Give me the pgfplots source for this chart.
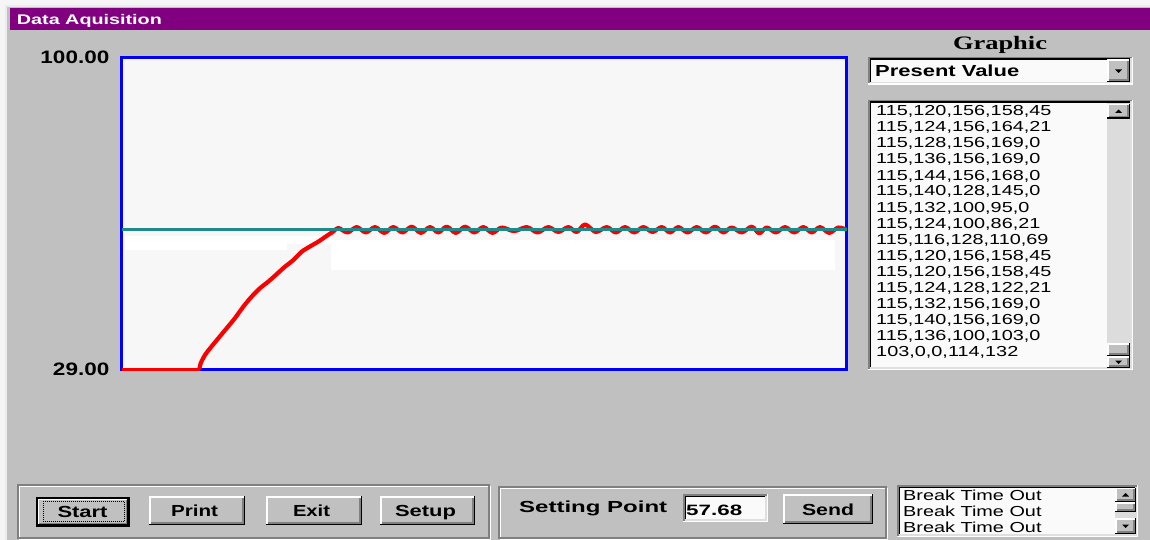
\documentclass[border=0pt]{standalone}
\usepackage{fontspec}
\setmainfont{Liberation Sans}
\newfontfamily\listfont[FakeStretch=1.37]{Liberation Sans}
\newfontfamily\serifb{Liberation Serif}
\usepackage{graphicx}
\usepackage{pgfplots}
\pgfplotsset{compat=1.18}
\definecolor{winbg}{HTML}{C0C0C0}
\definecolor{titlepurple}{HTML}{800080}
\definecolor{dkgray}{HTML}{808080}
\definecolor{ltgray}{HTML}{DFDFDF}
\definecolor{plotbg}{HTML}{F7F7F7}
\definecolor{fieldbg}{HTML}{FAFAFA}
\definecolor{trackc}{HTML}{DCDCDC}
\definecolor{setc}{RGB}{32,138,138}
\definecolor{pvred}{RGB}{250,0,0}
\definecolor{axblue}{RGB}{0,0,250}
\newcommand{\wtxt}[3]{\resizebox{#1pt}{\height}{\fontsize{#2}{#2}\selectfont #3}}
\newcommand{\raised}[4]{%
 \fill[winbg] (#1,#2) rectangle (#3,#4);
 \draw[white,line width=1.5pt] (#1+0.75,#4-1.5) -- (#1+0.75,#2+0.75) -- (#3-1.5,#2+0.75);
 \draw[black,line width=1.5pt] (#1,#4-0.75) -- (#3-0.75,#4-0.75) -- (#3-0.75,#2);
 \draw[dkgray,line width=1.5pt] (#1+1.5,#4-2.25) -- (#3-2.25,#4-2.25) -- (#3-2.25,#2+1.5);}
\newcommand{\sunken}[4]{%
 \fill[fieldbg] (#1,#2) rectangle (#3,#4);
 \draw[dkgray,line width=1.5pt] (#1+0.75,#4) -- (#1+0.75,#2+0.75) -- (#3,#2+0.75);
 \draw[black,line width=1.5pt] (#1+2.25,#4-1.5) -- (#1+2.25,#2+2.25) -- (#3-1.5,#2+2.25);
 \draw[white,line width=1.5pt] (#1,#4-0.75) -- (#3-0.75,#4-0.75) -- (#3-0.75,#2);
 \draw[ltgray,line width=1.5pt] (#1+1.5,#4-2.25) -- (#3-2.25,#4-2.25) -- (#3-2.25,#2+1.5);}
\newcommand{\etched}[4]{%
 \draw[white,line width=1.2pt] (#1+1.2,#2+1.2) rectangle (#3+1.2,#4+1.2);
 \draw[dkgray,line width=1.2pt] (#1,#2) rectangle (#3,#4);}
\newcommand{\arrdown}[2]{\fill[black] (#1-3.5,#2-1.5) -- (#1+3.5,#2-1.5) -- (#1,#2+2) -- cycle;}
\newcommand{\arrup}[2]{\fill[black] (#1-3.5,#2+1.5) -- (#1+3.5,#2+1.5) -- (#1,#2-2) -- cycle;}
\begin{document}
\begin{tikzpicture}[x=1pt,y=-1pt]
\useasboundingbox (0,0) rectangle (1150,540);
\fill[white!96!black] (0,0) rectangle (1150,540);
\fill[winbg] (5,5) rectangle (1150,540);
\draw[white!92!black,line width=1.2pt] (6,540) -- (6,6) -- (1150,6);
\fill[titlepurple] (10,8.5) rectangle (1150,30.5);
\node[anchor=base west,inner sep=0,text=white] at (16.7,25) {\wtxt{145}{14}{\bfseries Data Aquisition}};

\begin{scope}[x=1pt,y=1pt]
\begin{axis}[at={(121.5pt,-369.5pt)}, anchor=south west,
  width=725pt, height=312pt, scale only axis,
  xmin=0, xmax=725, ymin=29, ymax=100,
  axis line style={draw=axblue,line width=2.5pt},
  axis background/.style={fill=plotbg},
  xtick=\empty, ytick={29,100},
  yticklabels={\scalebox{1.25}[1]{29.00},\scalebox{1.25}[1]{100.00}},
  major tick length=0pt,
  yticklabel style={anchor=east,inner sep=0pt,xshift=-12pt,font=\bfseries\fontsize{18}{18}\selectfont},
  clip=false]
\fill[white] (3,59.4) rectangle (165.5,56.2);
\fill[white] (165.5,59.3) rectangle (210,57.6);
\fill[white] (209.5,58.5) rectangle (713.5,51.6);
\addplot[pvred,line width=2.5pt] coordinates {(0,29) (78,29)};
\addplot[pvred,line width=4.2pt,smooth,tension=0.5,line join=round] coordinates {
(77.8,29) (79.2,30.4) (83.5,32.3) (88.5,33.8) (96.8,36.1) (105.2,38.4) (113.5,40.7)
(121.8,43.3) (130.2,45.6) (138.5,47.5) (146.8,49.0) (155.2,50.7) (163.5,52.4)
(171.8,53.9) (180.2,55.8) (188.5,57.0) (196.8,58.1) (205.2,59.4) (211.8,60.4)
(216.8,61.2) (226,60.2) (235.2,61.4) (244.3,60.2) (253.5,61.4) (262.7,60.1)
(271.8,61.4) (281,60.2) (290.2,61.5) (299.3,60.1) (308.5,61.4) (316.8,60.2)
(325.2,61.5) (334.3,60.1) (343.5,61.5) (352.7,60.2) (361.8,61.4) (371,60.1)
(380.2,61.3) (392.7,60.5) (405.2,61.4) (416,60.2) (426.8,61.4) (436.8,60.3)
(446.8,61.4) (455.2,60.3) (463.5,62.0) (474.3,60.3) (485.2,61.4) (494.3,60.2)
(503.5,61.4) (512.7,60.2) (521.8,61.4) (531,60.3) (540.2,61.4) (548.5,60.2)
(556.8,61.4) (566,60.2) (575.2,61.4) (584.3,60.2) (593.5,61.5) (601.8,60.2)
(610.2,61.3) (620.2,60.2) (630.2,61.5) (637.7,60.0) (645.2,61.3) (654.3,60.2)
(663.5,61.4) (672.7,60.2) (681.8,61.4) (690.2,60.2) (698.5,61.4) (707.7,60.1)
(716.8,61.3) (725,60.8)};
\addplot[setc,line width=2.6pt] coordinates {(0,60.9) (725,60.9)};
\end{axis}
\end{scope}

% right panel
\node[anchor=base,inner sep=0] at (1000,50) {\wtxt{94}{19}{\serifb\bfseries Graphic}};
\sunken{868}{57}{1133}{85}
\raised{1107}{59.5}{1130}{82.5}
\arrdown{1118.5}{71}
\node[anchor=base west,inner sep=0] at (875,77) {\wtxt{144}{16}{\bfseries Present Value}};

\sunken{868}{100}{1133}{370}
\fill[trackc] (1107,103.5) rectangle (1130,367);
\raised{1107}{104}{1130}{119}
\arrup{1118.5}{111.5}
\raised{1107}{343}{1130}{356}
\raised{1107}{356}{1130}{368}
\arrdown{1118.5}{362}
\begin{scope}[every node/.style={anchor=base west,inner sep=0,font=\listfont\fontsize{14.5}{16}\selectfont}]
\node at (876,116) {115,120,156,158,45};
\node at (876,132) {115,124,156,164,21};
\node at (876,148) {115,128,156,169,0};
\node at (876,164) {115,136,156,169,0};
\node at (876,180) {115,144,156,168,0};
\node at (876,196) {115,140,128,145,0};
\node at (876,212) {115,132,100,95,0};
\node at (876,228) {115,124,100,86,21};
\node at (876,244) {115,116,128,110,69};
\node at (876,260) {115,120,156,158,45};
\node at (876,276) {115,120,156,158,45};
\node at (876,292) {115,124,128,122,21};
\node at (876,308) {115,132,156,169,0};
\node at (876,324) {115,140,156,169,0};
\node at (876,340) {115,136,100,103,0};
\node at (876,356) {103,0,0,114,132};
\end{scope}

% bottom controls
\etched{18}{485}{489}{538}
\etched{499}{487}{886}{538}
\draw[black,line width=1.5pt] (36.75,497.75) rectangle (129.25,526.25);
\raised{37.5}{498.5}{128.5}{525.5}
\draw[black,line width=0.8pt,dash pattern=on 1pt off 1pt] (43,501) rectangle (124,521.5);
\raised{149}{496}{245}{525}
\raised{266}{496}{362}{525}
\raised{380}{496}{475}{525}
\node[anchor=base,inner sep=0] at (82.5,517) {\wtxt{50}{16}{\bfseries Start}};
\node[anchor=base,inner sep=0] at (194.5,516) {\wtxt{47}{16}{\bfseries Print}};
\node[anchor=base,inner sep=0] at (311.5,516) {\wtxt{37}{16}{\bfseries Exit}};
\node[anchor=base,inner sep=0] at (425.5,516) {\wtxt{61}{16}{\bfseries Setup}};

\node[anchor=base west,inner sep=0] at (519,512) {\wtxt{148}{16}{\bfseries Setting Point}};
\sunken{683}{494}{768}{522}
\node[anchor=base west,inner sep=0] at (686,515) {\wtxt{56}{15}{\bfseries 57.68}};
\raised{783}{494}{873}{524}
\node[anchor=base,inner sep=0] at (828,515) {\wtxt{52}{16}{\bfseries Send}};

\sunken{897}{485}{1138}{537}
\fill[trackc] (1115,487.5) rectangle (1136,534);
\raised{1115}{487.5}{1136}{502}
\arrup{1125.5}{495}
\raised{1115}{502}{1136}{512}
\raised{1115}{518}{1136}{534}
\arrdown{1125.5}{526}
\begin{scope}[every node/.style={anchor=base west,inner sep=0,font=\listfont\fontsize{14.5}{16}\selectfont}]
\node at (903,500) {Break Time Out};
\node at (903,516) {Break Time Out};
\node at (903,532) {Break Time Out};
\end{scope}
\end{tikzpicture}
\end{document}
